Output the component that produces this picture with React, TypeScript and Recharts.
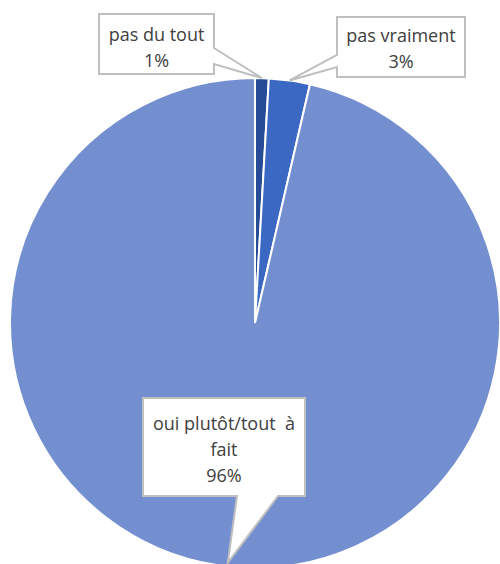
import React from 'react';
import { PieChart, Pie, Cell } from 'recharts';

// answers, clockwise from 12 o'clock
const CATEGORIES = ['pas du tout', 'pas vraiment', 'oui plutôt/tout  à fait'];
const SHARES = [0.9, 2.7, 96.4];
const COLORS = ['#264c98', '#3a68c3', '#748fcf'];

const data = CATEGORIES.map((name, i) => ({ name, value: SHARES[i] }));

const RAD = Math.PI / 180;

// callout boxes: box rect, tail base points, and where the tail tip goes (angle shift / radius factor)
const CALLOUTS = [
  { x: 99, y: 14, w: 115, h: 60, base: [[214, 48], [214, 64]], shift: 0, rf: 1, lines: 1, lineY: [41, 67] },
  { x: 337, y: 17, w: 128, h: 60, base: [[337, 67], [337, 55]], shift: 0, rf: 1, lines: 1, lineY: [42, 68] },
  { x: 143, y: 398, w: 162, h: 98, base: [[278, 496], [237, 496]], shift: 0, rf: 0.985, lines: 2, lineY: [430, 456, 482] },
];

const Callout = (props: any) => {
  const { cx, cy, midAngle, outerRadius, percent, name, index } = props;
  const c = CALLOUTS[index];
  const a = (midAngle + c.shift) * RAD;
  const tx = cx + outerRadius * c.rf * Math.cos(a);
  const ty = cy - outerRadius * c.rf * Math.sin(a);

  let pts: number[][];
  if (index === 0) {
    pts = [[c.x, c.y], [c.x + c.w, c.y], c.base[0], [tx, ty], c.base[1], [c.x + c.w, c.y + c.h], [c.x, c.y + c.h]];
  } else if (index === 1) {
    pts = [[c.x, c.y], [c.x + c.w, c.y], [c.x + c.w, c.y + c.h], [c.x, c.y + c.h], c.base[0], [tx, ty], c.base[1]];
  } else {
    pts = [[c.x, c.y], [c.x + c.w, c.y], [c.x + c.w, c.y + c.h], c.base[0], [tx, ty], c.base[1], [c.x, c.y + c.h]];
  }

  // split the long name so the last word sits on its own line
  let textLines = [name];
  if (c.lines === 2) {
    const cut = name.lastIndexOf(' ');
    textLines = [name.slice(0, cut), name.slice(cut + 1)];
  }
  textLines.push(`${Math.round(percent * 100)}%`);

  return (
    <g>
      <polygon
        points={pts.map((p) => p.join(',')).join(' ')}
        fill="#ffffff"
        stroke="#bfbfbf"
        strokeWidth={2}
      />
      {textLines.map((t, i) => (
        <text
          key={i}
          x={c.x + c.w / 2}
          y={c.lineY[i]}
          textAnchor="middle"
          fill="#404040"
          fontSize={18}
          fontFamily="'Open Sans', sans-serif"
          style={{ whiteSpace: 'pre' }}
        >
          {t}
        </text>
      ))}
    </g>
  );
};

export default function App() {
  return (
    <div style={{ position: 'absolute', left: 0, top: 0, width: 500, height: 564, background: '#fff', overflow: 'hidden' }}>
      <PieChart width={500} height={564} margin={{ top: 0, right: 0, bottom: 0, left: 0 }}>
        <Pie
          data={data}
          dataKey="value"
          nameKey="name"
          cx={255}
          cy={323}
          outerRadius={245}
          startAngle={90}
          endAngle={-270}
          stroke="#ffffff"
          strokeWidth={2}
          label={Callout}
          labelLine={false}
          isAnimationActive={false}
        >
          {data.map((d, i) => (
            <Cell key={d.name} fill={COLORS[i]} />
          ))}
        </Pie>
      </PieChart>
    </div>
  );
}
